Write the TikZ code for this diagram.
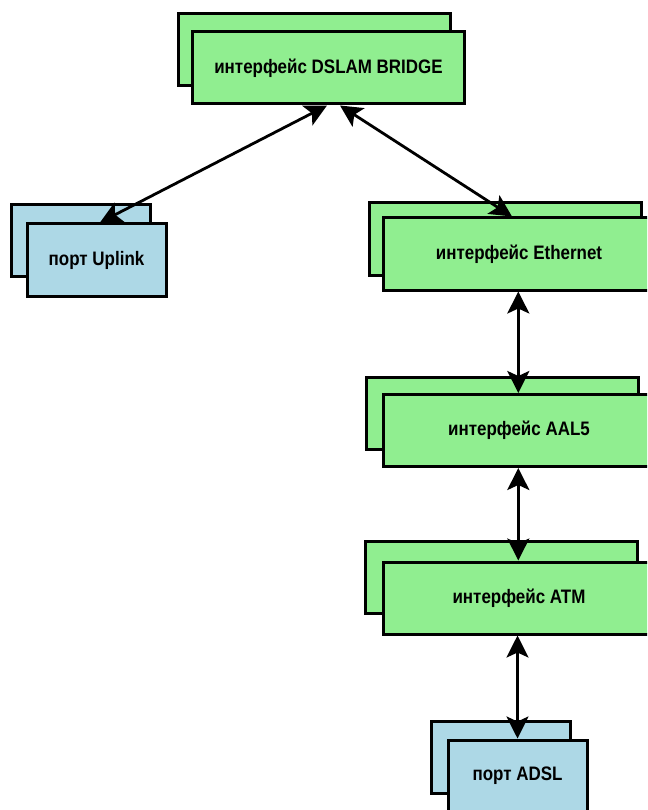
\documentclass[tikz,border=0pt]{standalone}
\usepackage{fontspec}
\setmainfont{Liberation Sans}
\newfontfamily\lblfont[FakeStretch=0.87]{Liberation Sans}
\usetikzlibrary{arrows.meta}
\definecolor{boxgreen}{HTML}{90EE90}
\definecolor{boxblue}{HTML}{ADD8E6}
\tikzset{
  gbox/.style={draw=black, line width=3pt, fill=boxgreen, rectangle, inner sep=0pt,
    minimum width=272pt, minimum height=72pt, font=\lblfont\fontsize{19.5}{22}\selectfont\bfseries},
  bbox/.style={draw=black, line width=3pt, fill=boxblue, rectangle, inner sep=0pt,
    minimum width=139pt, minimum height=72pt, font=\lblfont\fontsize{19.5}{22}\selectfont\bfseries},
  link/.style={line width=2.8pt, {Stealth[length=22pt,width=22pt,inset=5pt]}-{Stealth[length=22pt,width=22pt,inset=5pt]}}
}
\begin{document}
\begin{tikzpicture}[x=1pt,y=-1pt]
\useasboundingbox (0,0) rectangle (647,810);
\clip (0,0) rectangle (647,810);
% DSLAM BRIDGE
\node[gbox] (dslamB) at (314.5,49.5) {};
\node[gbox] (dslam) at (328.5,68) {интерфейс DSLAM BRIDGE};
% Uplink
\node[bbox] (uplinkB) at (81,240.5) {};
\node[bbox] (uplink) at (96.5,260) {порт Uplink};
% Ethernet
\node[gbox] (ethB) at (505,239) {};
\node[gbox] (eth) at (519,254) {интерфейс Ethernet};
% AAL5
\node[gbox] (aalB) at (502.5,413) {};
\node[gbox] (aal) at (519,430.5) {интерфейс AAL5};
% ATM
\node[gbox] (atmB) at (501,577.5) {};
\node[gbox] (atm) at (519,598) {интерфейс ATM};
% ADSL
\node[bbox] (adslB) at (501,757) {};
\node[bbox] (adsl) at (517.5,776) {порт ADSL};
% connectors
\draw[link] ([xshift=-1.5pt]dslam.south) -- ([xshift=3.5pt]uplink.north);
\draw[link] ([xshift=11.5pt]dslam.south) -- ([xshift=-7pt]eth.north);
\draw[link] ([xshift=-0.7pt]eth.south) -- ([xshift=-0.7pt]aal.north);
\draw[link] ([xshift=-0.7pt]aal.south) -- ([xshift=-0.7pt]atm.north);
\draw[link] (adsl.north |- atm.south) -- (adsl.north);
\end{tikzpicture}
\end{document}
